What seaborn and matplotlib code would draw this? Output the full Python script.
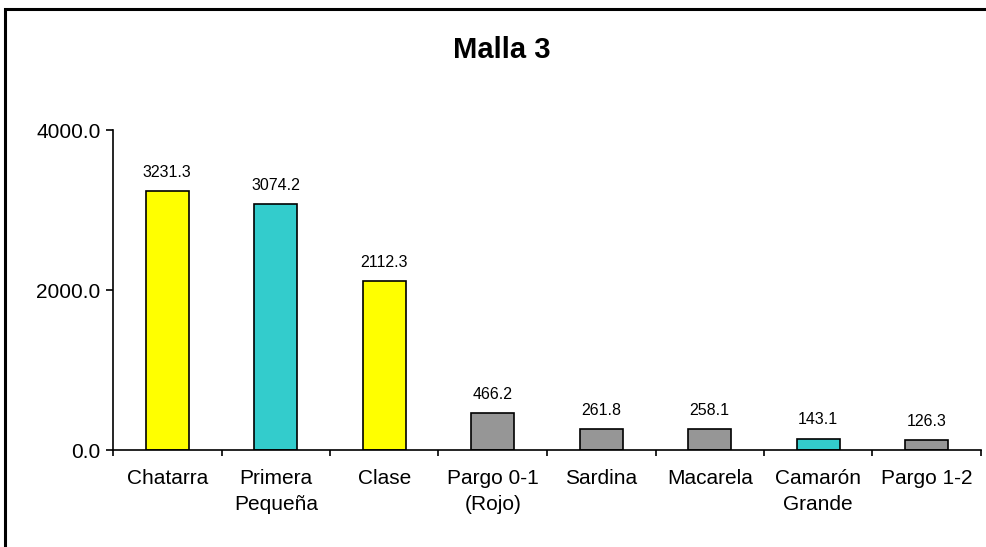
import matplotlib
matplotlib.use("Agg")
import matplotlib.pyplot as plt
import seaborn as sns
import pandas as pd
import numpy as np
from matplotlib.patches import Rectangle
from matplotlib.ticker import FixedLocator

categories = ["Chatarra", "Primera\nPequeña", "Clase", "Pargo 0-1\n(Rojo)", "Sardina",
              "Macarela", "Camarón\nGrande", "Pargo 1-2"]
values = [3231.3, 3074.2, 2112.3, 466.2, 261.8, 258.1, 143.1, 126.3]
bar_colors = ["#FFFF00", "#33CCCC", "#FFFF00", "#969696", "#969696", "#969696", "#33CCCC", "#969696"]
yticks = [0, 2000, 4000]
title = "Malla 3"

sns.set_theme(style="white")
plt.rcParams["font.family"] = ["Liberation Sans", "DejaVu Sans"]
plt.rcParams.update({"text.color": "black", "xtick.color": "black", "ytick.color": "black",
                     "axes.labelcolor": "black"})

df = pd.DataFrame({"cat": categories, "val": values})

fig = plt.figure(figsize=(9.87, 5.47), dpi=100)
W, H = 987, 547
ax = fig.add_axes([113 / W, 1 - 450 / H, (981 - 113) / W, (450 - 130) / H])

sns.barplot(data=df, x="cat", y="val", hue="cat", palette=bar_colors, legend=False,
            width=0.4, edgecolor="black", linewidth=1.2, saturation=1, ax=ax)

ax.set_xlim(-0.5, len(categories) - 0.5)
ax.set_ylim(0, 4000)
ax.set_yticks(yticks)
ax.set_yticklabels([f"{v:.1f}" for v in yticks], fontsize=15, color="black")
ax.set_xlabel("")
ax.set_ylabel("")
ax.tick_params(axis="x", which="major", length=0, pad=14, labelsize=15, labelcolor="black")
ax.xaxis.set_minor_locator(FixedLocator(np.arange(-0.5, len(categories), 1.0)))
ax.tick_params(axis="x", which="minor", length=4, width=1.2, color="black", direction="out", bottom=True)
ax.tick_params(axis="y", length=5, width=1.2, color="black", direction="out", left=True, pad=4,
               labelcolor="black")
for lbl in ax.get_xticklabels():
    lbl.set_linespacing(1.45)

for s in ["top", "right"]:
    ax.spines[s].set_visible(False)
for s in ["left", "bottom"]:
    ax.spines[s].set_color("black")
    ax.spines[s].set_linewidth(1.2)

for i, v in enumerate(values):
    ax.annotate(f"{v:.1f}", (i, v), xytext=(0, 8), textcoords="offset points",
                ha="center", va="bottom", fontsize=11.5, color="black")

fig.text(502 / W, 1 - 50 / H, title, ha="center", va="center", fontsize=21,
         fontweight="bold", color="black")

fig.patches.append(Rectangle((5 / W, -0.1), 1.2, 1 - 9 / H + 0.1, transform=fig.transFigure,
                             fill=False, edgecolor="black", linewidth=2.2, zorder=10))

fig.savefig("out.png", dpi=100)
